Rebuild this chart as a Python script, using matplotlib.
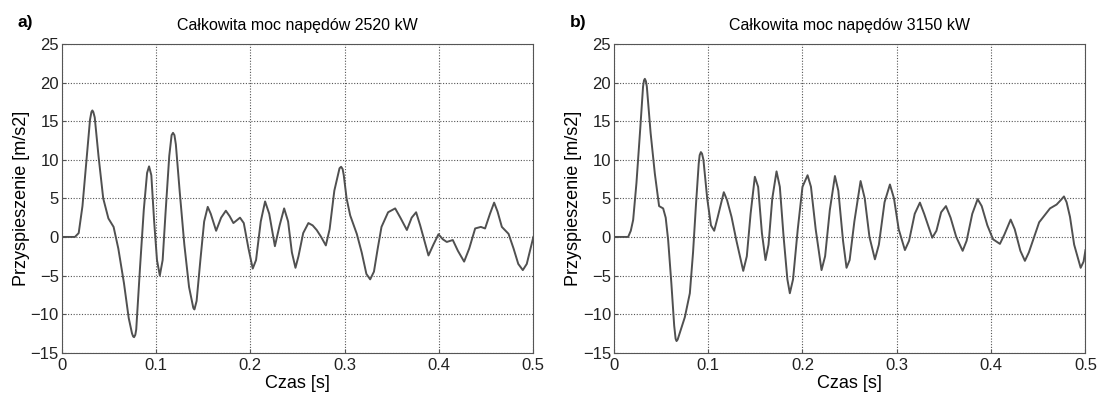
import matplotlib.pyplot as plt

plt.rcParams["font.family"] = ["Liberation Sans", "DejaVu Sans"]

# panel a) - 2520 kW
t_a = [0, 0.014, 0.018, 0.022, 0.027, 0.030, 0.0315, 0.0325, 0.0335, 0.035,
       0.039, 0.044, 0.0495, 0.055, 0.060, 0.066, 0.071, 0.0745, 0.0757, 0.0767,
       0.078, 0.079, 0.083, 0.087, 0.0905, 0.0926, 0.095, 0.098, 0.101, 0.104,
       0.107, 0.110, 0.114, 0.1165, 0.118, 0.1195, 0.121, 0.125, 0.130, 0.135,
       0.1395, 0.1407, 0.143, 0.147, 0.151, 0.1548,
       0.158, 0.1637, 0.169, 0.174, 0.178, 0.182, 0.189, 0.193, 0.198, 0.2025,
       0.206, 0.211, 0.2156, 0.220, 0.226, 0.231, 0.2358, 0.240, 0.244, 0.2478,
       0.251, 0.256, 0.2615, 0.266, 0.2703, 0.275, 0.280, 0.284, 0.289, 0.2945,
       0.2962, 0.2978, 0.299, 0.302, 0.3058, 0.3128, 0.318, 0.323, 0.327, 0.331,
       0.335, 0.339, 0.346, 0.3535, 0.359, 0.3659, 0.371, 0.3757, 0.380, 0.3888,
       0.394, 0.3994, 0.404, 0.4082, 0.4146, 0.420, 0.4266, 0.432, 0.4383, 0.4443,
       0.4488, 0.454, 0.4584, 0.462, 0.4666, 0.4737, 0.479, 0.484, 0.4888, 0.493,
       0.497, 0.5]
acc_a = [0, 0, 0.5, 4, 11, 15.2, 16.2, 16.4, 16.2, 15.5,
         10.5, 5, 2.4, 1.3, -1.5, -6, -10.5, -12.5, -12.9, -13.0,
         -12.7, -12, -4, 3.5, 8.3, 9.15, 8, 2, -3, -5.0,
         -3, 3, 10.5, 13.2, 13.5, 13.2, 12, 6, -1, -6.5,
         -9.2, -9.4, -8.3, -3, 2, 3.9,
         3, 0.8, 2.5, 3.4, 2.7, 1.8, 2.5, 1.8, -1.5, -4.1,
         -3, 2, 4.6, 3, -1.2, 1.5, 3.7, 2, -2.0, -4.0,
         -2.5, 0.5, 1.8, 1.5, 0.9, 0, -1.1, 1.0, 6, 8.9,
         9.1, 8.8, 8, 5, 2.8, 0.4, -2, -4.8, -5.5, -4.5,
         -1.5, 1.3, 3.2, 3.7, 2.5, 0.9, 2.5, 3.2, 1.5, -2.4,
         -1, 0.35, -0.3, -0.65, -0.4, -1.8, -3.2, -1.5, 1.1, 1.3,
         1.1, 3, 4.45, 3.3, 1.3, 0.4, -1.5, -3.5, -4.3, -3.5,
         -1.5, 0]

# panel b) - 3150 kW
t_b = [0, 0.0152, 0.018, 0.0205, 0.024, 0.028, 0.031, 0.032, 0.0329, 0.034,
       0.035, 0.039, 0.0435, 0.048, 0.0523, 0.055, 0.0576, 0.061, 0.064, 0.0655,
       0.0665, 0.0677, 0.069, 0.0753, 0.0806, 0.084, 0.087, 0.090, 0.091, 0.0923,
       0.0935, 0.095, 0.099, 0.103, 0.1064, 0.110,
       0.1166, 0.120, 0.1248, 0.130, 0.1372, 0.141, 0.145, 0.1495, 0.153, 0.157,
       0.1608, 0.164, 0.168, 0.1725, 0.176, 0.180, 0.184, 0.1866, 0.190, 0.195,
       0.200, 0.2054, 0.209, 0.214, 0.2202, 0.224, 0.229, 0.2344, 0.238, 0.243,
       0.2467, 0.250, 0.255, 0.2616, 0.266, 0.271, 0.2768, 0.281, 0.287, 0.2927,
       0.297, 0.302, 0.3086, 0.313, 0.319, 0.3245, 0.329, 0.3376, 0.342, 0.347,
       0.3521, 0.357, 0.363, 0.3698, 0.374, 0.380, 0.3857, 0.390, 0.396, 0.402,
       0.4093, 0.414, 0.4207, 0.425, 0.431, 0.4358, 0.440, 0.4509, 0.4624, 0.4694,
       0.474, 0.4772, 0.480, 0.4836, 0.488, 0.4949, 0.498, 0.5]
acc_b = [0, 0, 0.8, 2.2, 7, 14, 19.5, 20.3, 20.5, 20.2,
         19.5, 13.5, 8.2, 4.0, 3.7, 2.5, -0.4, -6, -11.5, -13.2,
         -13.5, -13.3, -12.8, -10.4, -7.3, -2, 4, 9.5, 10.6, 11.0,
         10.8, 10, 5, 1.5, 0.8, 2.5,
         5.8, 4.8, 2.6, -0.5, -4.4, -2.5, 3, 7.8, 6.5, 0.5,
         -3.0, -1, 5, 8.5, 6.5, 0, -5.5, -7.3, -5.5, 1,
         6.5, 8.0, 6.5, 1, -4.3, -2.5, 3.5, 7.9, 6, -0.5,
         -4.0, -3, 2, 7.25, 5, 0, -2.9, -1, 4.5, 6.8,
         5, 1, -1.7, -0.5, 3, 4.45, 3, -0.1, 0.8, 3.2,
         4.0, 2.5, 0, -1.8, -0.5, 3, 4.9, 4, 1.5, -0.3,
         -0.9, 0.3, 2.25, 1, -1.8, -3.1, -2, 1.9, 3.7, 4.2,
         4.8, 5.25, 4.5, 2.6, -1, -4.0, -3.2, -1.7]

panels = [
    ("a)", "Całkowita moc napędów 2520 kW", t_a, acc_a),
    ("b)", "Całkowita moc napędów 3150 kW", t_b, acc_b),
]
x_ticks = [0, 0.1, 0.2, 0.3, 0.4, 0.5]
y_ticks = [-15, -10, -5, 0, 5, 10, 15, 20, 25]

fig = plt.figure(figsize=(11.02, 3.94), dpi=100)
lefts = [0.056, 0.557]

for left, (tag, title, t, acc) in zip(lefts, panels):
    ax = fig.add_axes([left, 0.105, 0.428, 0.783])
    ax.plot(t, acc, color="#505050", linewidth=1.4)
    ax.set_xlim(0, 0.5)
    ax.set_ylim(-15, 25)
    ax.set_xticks(x_ticks)
    ax.set_xticklabels(["0", "0.1", "0.2", "0.3", "0.4", "0.5"])
    ax.set_yticks(y_ticks)
    ax.tick_params(direction="in", length=3, labelsize=12, color="#555555",
                   labelcolor="#222222")
    ax.tick_params(axis="x", pad=4)
    ax.tick_params(axis="y", pad=2)
    ax.grid(True, linestyle=(0, (1, 1.5)), color="#555555", linewidth=0.8)
    for s in ax.spines.values():
        s.set_color("#555555")
    ax.set_xlabel("Czas [s]", fontsize=13, labelpad=1)
    ax.set_ylabel("Przyspieszenie [m/s2]", fontsize=13)
    ax.yaxis.set_label_coords(-0.068, 0.5)
    ax.set_title(title, fontsize=11.5, pad=10)
    fig.text(left - 0.04, 0.944, tag, fontsize=12.5, fontweight="bold",
             ha="left", va="center")

fig.savefig("out.png", dpi=100)
